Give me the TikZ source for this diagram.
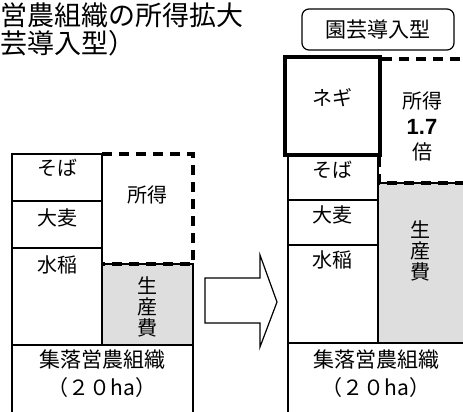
\documentclass[tikz,border=0pt]{standalone}
\usepackage{fontspec}
\setmainfont{Noto Sans CJK JP}
\newfontfamily\lat{Liberation Sans}
\begin{document}
\begin{tikzpicture}[x=1pt,y=-1pt,
  box/.style={draw=black,line width=1.3pt},
  dashbox/.style={draw=black,line width=3.2pt,dash pattern=on 10pt off 7pt},
  stip/.style={fill=black!13},
  lbl/.style={font=\fontsize{20}{22}\selectfont,inner sep=0pt},
  baselbl/.style={font=\fontsize{21}{24}\selectfont,inner sep=0pt},
  ttl/.style={font=\fontsize{27}{30}\selectfont,inner sep=0pt,anchor=west}]
\useasboundingbox (0,0) rectangle (463,412);
% title
\node[ttl] (t1) at (0,15) {営農組織の所得拡大};
\node[ttl] (t2) at (0,43) {芸導入型）};
% ---------- left diagram ----------
\fill[stip] (102,264) rectangle (193,345);
\draw[box] (102,264) rectangle (193,345);
\draw[box] (12,154) rectangle (102,201);
\draw[box] (12,201) rectangle (102,248);
\draw[box] (12,248) rectangle (102,345);
\draw[box] (12,345) rectangle (193,420);
\draw[dashbox] (102,154) -- (193,154) -- (193,264) -- (102,264);
\node[lbl] (lsoba) at (57,168) {そば};
\node[lbl] (lomugi) at (57,218) {大麦};
\node[lbl] (lsuito) at (57,265) {水稲};
\node[lbl] (lshotoku) at (147,195) {所得};
\node[lbl,align=center,font=\fontsize{20}{21}\selectfont] (lseisan) at (147,307) {生\\産\\費};
\node[baselbl] (lbase1) at (102,360) {集落営農組織};
\node[baselbl] (lbase2) at (102,388) {（２０ha）};
% ---------- arrow ----------
\draw[line width=1.2pt,fill=white] (205,278) -- (260,278) -- (260,255) -- (277,302)
  -- (260,347) -- (260,323) -- (205,323) -- cycle;
% ---------- right diagram ----------
\node[draw,rounded corners=7pt,line width=1.2pt,minimum width=152pt,minimum height=41pt,
  inner sep=0pt,font=\fontsize{21}{24}\selectfont] (hd) at (378,29.5) {園芸導入型};
\fill[stip] (378,183) rectangle (470,343);
\draw[box] (378,183) rectangle (470,343);
\draw[box] (288,155) rectangle (378,200);
\draw[box] (288,200) rectangle (378,245);
\draw[box] (288,245) rectangle (378,343);
\draw[box] (288,343) rectangle (470,420);
\draw[line width=4pt] (285,57) rectangle (380,155);
\draw[dashbox] (382,59) -- (470,59);
\draw[dashbox] (379,157) -- (379,183) -- (470,183);
\node[lbl] (rnegi) at (332,98) {ネギ};
\node[lbl] (rsoba) at (332,170) {そば};
\node[lbl] (romugi) at (332,215) {大麦};
\node[lbl] (rsuito) at (332,260) {水稲};
\node[lbl] (rshotoku) at (422,101) {所得};
\node[inner sep=0pt,font=\lat\bfseries\fontsize{22}{24}\selectfont] (r17) at (422,127) {1.7};
\node[lbl] (rbai) at (422,152) {倍};
\node[lbl,align=center,font=\fontsize{20}{21}\selectfont] (rseisan) at (420,251) {生\\産\\費};
\node[baselbl] (rbase1) at (376,360) {集落営農組織};
\node[baselbl] (rbase2) at (376,388) {（２０ha）};
\end{tikzpicture}
\end{document}
